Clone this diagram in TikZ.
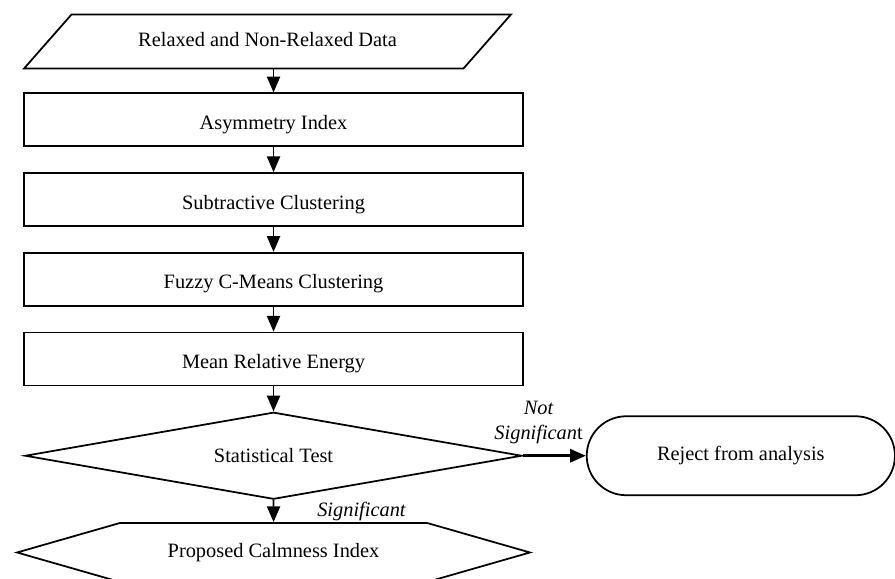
\documentclass[tikz,border=0pt]{standalone}
\usepackage{fontspec}
\setmainfont{Liberation Serif}
\usepackage{tikz}
\usetikzlibrary{arrows.meta}
\usetikzlibrary{positioning}
\usetikzlibrary{shapes.geometric}
\usetikzlibrary{shapes.symbols}
\usetikzlibrary{shapes.misc}
\tikzset{%
  myedge/.style={-{Triangle[length=9pt, width=7.5pt]}, line width=1pt},
  mybox/.style={rectangle, draw=black, line width=1pt, minimum width=9.98cm, minimum height=1.06cm,
    text height=1.35em, text depth=0.25em},
  mydata/.style={trapezium, trapezium left angle=48.7, trapezium right angle=131.3,
    trapezium stretches body=true, draw=black, line width=1pt, minimum width=9.74cm,
    text height=0.8em, text depth=0.25em, inner ysep=0.356cm},
  mytest/.style={diamond, aspect=5.7, draw=black, line width=1pt, minimum width=9.94cm, minimum height=1.74cm, inner sep=0pt},
  myout/.style={signal, signal to=west and east, signal pointer angle=32, draw=black, line width=1pt,
    minimum width=10.26cm, minimum height=1.18cm},
  myend/.style={rounded rectangle, draw=black, line width=1pt, minimum width=6.4cm, minimum height=1.58cm},
  mylabel/.style={font=\fontsize{11.6pt}{14pt}\selectfont\itshape, align=center}
}

\begin{document}
\begin{tikzpicture}[x=0.02cm, y=-0.02cm, font=\fontsize{11.6pt}{14pt}\selectfont]
  \useasboundingbox (0,0) rectangle (895,578);
  \node[mydata] (data) at (267.5,41.5) {Relaxed and Non-Relaxed Data};
  \node[mybox, below=0.46cm of data, xshift=0.12cm] (asym) {Asymmetry Index};
  \node[mybox, below=0.5cm of asym] (subc) {Subtractive Clustering};
  \node[mybox, below=0.5cm of subc] (fcm) {Fuzzy C-Means Clustering};
  \node[mybox, below=0.5cm of fcm] (mre) {Mean Relative Energy};
  \node[mytest, below=0.5cm of mre] (test) {Statistical Test};
  \node[myout, below=0.44cm of test] (calm) {Proposed Calmness Index};
  \node[myend, right=1.26cm of test] (reject) {Reject from analysis};
  \draw [myedge] (asym.north |- data.south) -- (asym);
  \draw [myedge] (asym) -- (subc);
  \draw [myedge] (subc) -- (fcm);
  \draw [myedge] (fcm) -- (mre);
  \draw [myedge] (mre) -- (test);
  \draw [myedge] (test) -- (calm) node [mylabel, right=0.74cm, midway] {Significant};
  \draw [myedge, line width=1.6pt] (test) -- (reject) node [mylabel, above=0.1cm, pos=0.25] {Not\\Significan\textup{t}};
\end{tikzpicture}
\end{document}
